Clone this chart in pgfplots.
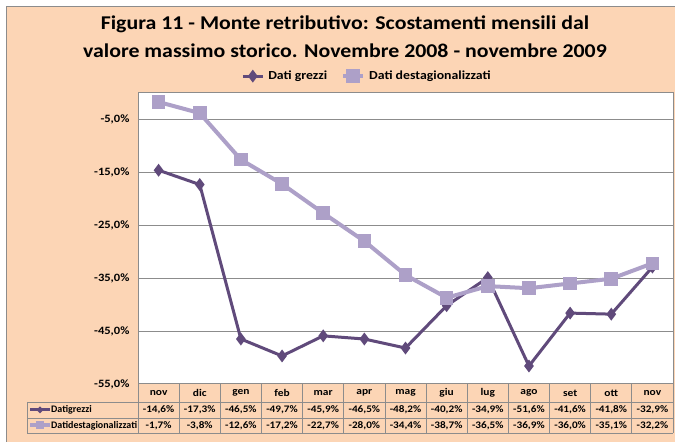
\documentclass[border=0pt]{standalone}
\usepackage{fontspec}
\setmainfont{Carlito}[FakeStretch=1.12]
\newfontfamily\keyfont{Carlito}[FakeStretch=1.0]
\usepackage{pgfplots}
\pgfplotsset{compat=1.18}
\definecolor{peach}{HTML}{FCD5B5}
\definecolor{darkp}{HTML}{604A7B}
\definecolor{lightp}{HTML}{ADA0C8}
\definecolor{gridg}{HTML}{8C8C8C}
\pgfplotstableread{
x grezzi destag
0 -14.6 -1.7
1 -17.3 -3.8
2 -46.5 -12.6
3 -49.7 -17.2
4 -45.9 -22.7
5 -46.5 -28.0
6 -48.2 -34.4
7 -40.2 -38.7
8 -34.9 -36.5
9 -51.6 -36.9
10 -41.6 -36.0
11 -41.8 -35.1
12 -32.9 -32.2
}\datatable
\begin{document}
\begin{tikzpicture}[x=1bp,y=1bp]
\path[use as bounding box] (0,0) rectangle (675,442);
\fill[white] (0,0) rectangle (675,442);
\fill[peach] (6,0) rectangle (675,436);
\draw[gridg, line width=0.8bp] (6,0) -- (6,436) -- (675,436);
\node[font=\bfseries\fontsize{19.5bp}{28bp}\selectfont, align=center] at (345,405)
  {Figura 11 - Monte retributivo: Scostamenti mensili dal\\valore massimo storico. Novembre 2008 - novembre 2009};
\begin{axis}[at={(138bp,58bp)}, anchor=south west, width=535bp, height=291bp, scale only axis,
  xmin=-0.5, xmax=12.5, ymin=-55, ymax=0,
  xtick=\empty,
  ytick={-55,-45,-35,-25,-15,-5},
  yticklabels={{-55,0\%},{-45,0\%},{-35,0\%},{-25,0\%},{-15,0\%},{-5,0\%}},
  ymajorgrids, grid style={gridg, line width=1bp},
  axis line style={gridg, line width=1bp},
  major tick length=0,
  axis background/.style={fill=white},
  y tick label style={font=\bfseries\fontsize{11.2bp}{13bp}\selectfont, xshift=-5bp},
  legend columns=2,
  legend style={draw=none, fill=none, at={(0.428,1.058)}, anchor=center,
    font=\bfseries\fontsize{12.3bp}{15bp}\selectfont,
    /tikz/every odd column/.append style={column sep=2bp},
    /tikz/every even column/.append style={column sep=12bp}},
  legend image code/.code={\draw[mark repeat=2,mark phase=2,#1] plot coordinates {(0bp,0bp) (10bp,0bp) (20bp,0bp)};},
  clip=false,
]
\addplot[darkp, line width=3bp, mark=diamond*, mark size=4bp, mark options={solid}] table[x=x,y=grezzi] {\datatable};
\addplot[lightp, line width=4bp, mark=square*, mark size=4.8bp, mark options={solid}] table[x=x,y=destag] {\datatable};
\legend{Dati grezzi, Dati destagionalizzati}
\end{axis}
% data table below the chart
\def\cw{41.154}
\draw[gridg, line width=0.8bp] (27,40) -- (673,40);
\draw[gridg, line width=0.8bp] (27,24) -- (673,24);
\draw[gridg, line width=0.8bp] (27,9) -- (673,9);
\draw[gridg, line width=0.8bp] (27,40) -- (27,9);
\foreach \k in {0,...,13} {\draw[gridg, line width=0.8bp] ({138+\cw*\k},58) -- ({138+\cw*\k},9);}
\foreach \m [count=\i from 0] in {nov,dic,gen,feb,mar,apr,mag,giu,lug,ago,set,ott,nov}
  {\node[font=\bfseries\fontsize{10.2bp}{12bp}\selectfont] at ({138+\cw*(\i+0.5)},49) {\m};}
\foreach \v [count=\i from 0] in {{-14,6\%},{-17,3\%},{-46,5\%},{-49,7\%},{-45,9\%},{-46,5\%},{-48,2\%},{-40,2\%},{-34,9\%},{-51,6\%},{-41,6\%},{-41,8\%},{-32,9\%}}
  {\node[font=\bfseries\fontsize{10bp}{12bp}\selectfont] at ({138+\cw*(\i+0.5)},32) {\v};}
\foreach \v [count=\i from 0] in {{-1,7\%},{-3,8\%},{-12,6\%},{-17,2\%},{-22,7\%},{-28,0\%},{-34,4\%},{-38,7\%},{-36,5\%},{-36,9\%},{-36,0\%},{-35,1\%},{-32,2\%}}
  {\node[font=\bfseries\fontsize{10bp}{12bp}\selectfont] at ({138+\cw*(\i+0.5)},16.5) {\v};}
% row keys
\draw[darkp, line width=3bp] (30,32) -- (50,32);
\fill[darkp] (40,35.5) -- (43.5,32) -- (40,28.5) -- (36.5,32) -- cycle;
\node[anchor=west, inner sep=0pt, font=\keyfont\bfseries\fontsize{10bp}{12bp}\selectfont] at (51,32) {Datigrezzi};
\draw[lightp, line width=4bp] (30,16.5) -- (50,16.5);
\fill[lightp] (36,12.5) rectangle (44,20.5);
\node[anchor=west, inner sep=0pt, font=\keyfont\bfseries\fontsize{10bp}{12bp}\selectfont] at (51,16.5) {Datidestagionalizzati};
\end{tikzpicture}
\end{document}
